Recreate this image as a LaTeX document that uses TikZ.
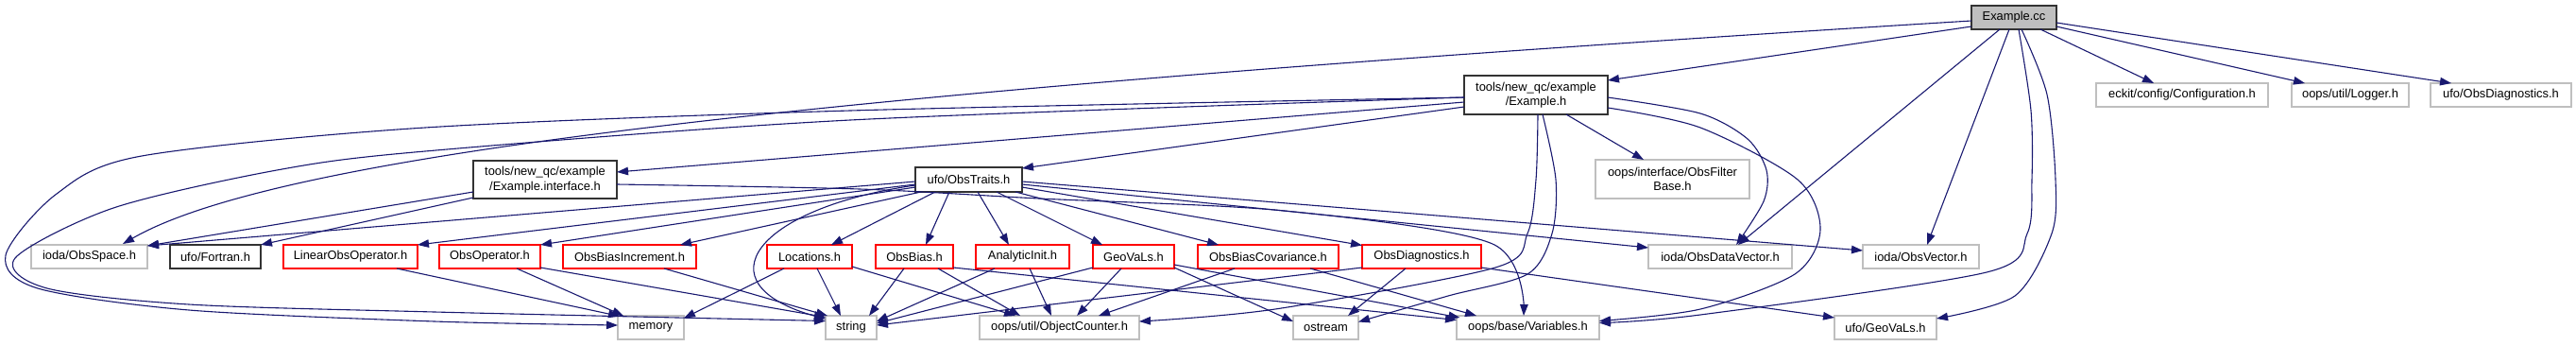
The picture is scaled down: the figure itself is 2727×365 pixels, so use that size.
\documentclass[tikz,border=0pt]{standalone}
\usepackage{fontspec}
\setmainfont{Liberation Sans}
\usetikzlibrary{arrows.meta,calc}
\definecolor{edgeblue}{RGB}{25,25,112}
\definecolor{boxgray}{RGB}{191,191,191}

\begin{document}
\begin{tikzpicture}[
    x=1pt, y=-1pt,
    font=\fontsize{12.9}{15.5}\selectfont,
    hdr/.style={draw, rectangle, inner sep=0pt, minimum height=25pt,
      align=center, line width=1.1pt},
    sys/.style={hdr, draw=boxgray, line width=1.5pt},
    loc/.style={hdr, draw=black!80},
    ufo/.style={hdr, draw=red},
    inc/.style={draw=edgeblue, line width=1.1pt,
      -{Triangle[length=12pt,width=8.5pt]}}
  ]
\useasboundingbox (0,0) rectangle (2727,365);

% top file and its direct includes
\node[loc, fill=boxgray, minimum width=90pt] (cc) at (2132,18.5) {Example.cc};
\node[loc, minimum width=152pt, minimum height=41pt] (exh) at (1626,100.5) {tools/new\_qc/example\\/Example.h};
\node[sys, minimum width=182pt] (conf) at (2310,100.5) {eckit/config/Configuration.h};
\node[sys, minimum width=124pt] (logger) at (2488,100.5) {oops/util/Logger.h};
\node[sys, minimum width=149pt] (obsdiagU) at (2647.5,100.5) {ufo/ObsDiagnostics.h};

% second level
\node[loc, minimum width=152pt, minimum height=40pt] (iface) at (577,190) {tools/new\_qc/example\\/Example.interface.h};
\node[loc, minimum width=113pt, minimum height=26pt] (traits) at (1025.5,190) {ufo/ObsTraits.h};
\node[sys, minimum width=163pt, minimum height=41pt] (filterbase) at (1770.5,189.5) {oops/interface/ObsFilter\\Base.h};

% third level
\node[sys, minimum width=123pt] (obsspace) at (94.5,271.5) {ioda/ObsSpace.h};
\node[loc, minimum width=96pt]  (fortran)  at (228,271.5) {ufo/Fortran.h};
\node[ufo, minimum width=142pt] (linop)    at (371,271.5) {LinearObsOperator.h};
\node[ufo, minimum width=107pt] (obsop)    at (518.5,271.5) {ObsOperator.h};
\node[ufo, minimum width=141pt] (biasinc)  at (666.5,271.5) {ObsBiasIncrement.h};
\node[ufo, minimum width=90pt]  (locs)     at (857,271.5) {Locations.h};
\node[ufo, minimum width=82pt]  (bias)     at (968,271.5) {ObsBias.h};
\node[ufo, minimum width=99pt]  (anainit)  at (1082.5,271.5) {AnalyticInit.h};
\node[ufo, minimum width=86pt]  (geovals)  at (1200,271.5) {GeoVaLs.h};
\node[ufo, minimum width=149pt] (biascov)  at (1342.5,271.5) {ObsBiasCovariance.h};
\node[ufo, minimum width=126pt] (obsdiag)  at (1505,271.5) {ObsDiagnostics.h};
\node[sys, minimum width=152pt] (datavec)  at (1821,271.5) {ioda/ObsDataVector.h};
\node[sys, minimum width=123pt] (obsvec)   at (2033.5,271.5) {ioda/ObsVector.h};

% bottom level
\node[sys, minimum width=70pt]  (memory)    at (689,346.5) {memory};
\node[sys, minimum width=54pt]  (string)    at (901,346.5) {string};
\node[sys, minimum width=169pt] (objcnt)    at (1121.5,346.5) {oops/util/ObjectCounter.h};
\node[sys, minimum width=69pt]  (ostream)   at (1403.5,346.5) {ostream};
\node[sys, minimum width=151pt] (variables) at (1617.5,346.5) {oops/base/Variables.h};
\node[sys, minimum width=108pt] (geovalsU)  at (1996,346.5) {ufo/GeoVaLs.h};

% Example.cc
\draw[inc] ($(cc)+(-45,9.5)$) -- ($(exh)+(76,-15.5)$);
\draw[inc] ($(cc)+(-45,3.5)$) .. controls (900,95) and (300,160) .. ($(obsspace)+(35.5,-13.5)$);
\draw[inc] ($(cc)+(-15,12.5)$) -- ($(datavec)+(19,-12.5)$);
\draw[inc] ($(cc)+(-5,12.5)$) -- ($(obsvec)+(6.5,-12.5)$);
\draw[inc] plot[smooth] coordinates {($(cc)+(5,12.5)$) (2150,117) (2151,190) (2146,247) (2103,288) (1800,333) ($(variables)+(75.5,-5)$)};
\draw[inc] plot[smooth] coordinates {($(cc)+(8,12.5)$) (2167,100) (2176,190) (2172,247) (2133,313) ($(geovalsU)+(54,-9.5)$)};
\draw[inc] ($(cc)+(28,12.5)$) -- ($(conf)+(-30,-12.5)$);
\draw[inc] ($(cc)+(45,9.5)$) -- ($(logger)+(-48,-12.5)$);
\draw[inc] ($(cc)+(45,5.5)$) -- ($(obsdiagU)+(-52.5,-12.5)$);

% Example.h
\draw[inc] ($(exh)+(-76,7.5)$) -- ($(iface)+(76,-8)$);
\draw[inc] ($(exh)+(-76,12.5)$) -- ($(traits)+(56.5,-12)$);
\draw[inc] plot[smooth] coordinates {($(exh)+(-76,2.5)$) (900,117) (450,135) (150,165) (60,205) (6,270) (40,305) (200,328) (460,340) ($(memory)+(-35,-2.5)$)};
\draw[inc] plot[smooth] coordinates {($(exh)+(-76,2.5)$) (900,127) (450,160) (293,180) (120,220) (16,273) (50,305) (200,322) (460,330) ($(string)+(-27,-7)$)};
\draw[inc] ($(exh)+(32,20.5)$) -- ($(filterbase)+(-30.5,-20.5)$);
\draw[inc] plot[smooth] coordinates {($(exh)+(76,2.5)$) (1800,120) (1850,147) (1870,180) (1867,213) ($(datavec)+(17,-12.5)$)};
\draw[inc] plot[smooth] coordinates {($(exh)+(76,13.5)$) (1800,135) (1903,190) (1927,243) (1900,290) (1800,327) ($(variables)+(75.5,-7)$)};
\draw[inc] plot[smooth] coordinates {($(exh)+(7,20.5)$) (1647,190) (1643,247) (1617,290) (1533,313) ($(ostream)+(34.5,-6)$)};
\draw[inc] plot[smooth] coordinates {($(exh)+(2,20.5)$) (1626,190) (1617,247) (1583,283) (1350,327) ($(objcnt)+(84.5,-6.5)$)};

% Example.interface.h
\draw[inc] ($(iface)+(-76,13)$) -- ($(obsspace)+(61.5,-11.5)$);
\draw[inc] ($(iface)+(-76,19)$) -- ($(fortran)+(48,-12.5)$);
\draw[inc] plot[smooth] coordinates {($(iface)+(76,5)$) (910,200) (1100,210) (1360,223) (1580,258) ($(variables)+(-4.5,-12.5)$)};

% ufo/ObsTraits.h
\draw[inc] ($(traits)+(-56.5,2)$) -- ($(obsspace)+(61.5,-11.5)$);
\draw[inc] ($(traits)+(-56.5,5)$) -- ($(linop)+(71,-12.5)$);
\draw[inc] ($(traits)+(-56.5,8)$) -- ($(obsop)+(53.5,-12.5)$);
\draw[inc] ($(traits)+(-50.5,13)$) -- ($(biasinc)+(53.5,-12.5)$);
\draw[inc] ($(traits)+(-35.5,13)$) -- ($(locs)+(23,-12.5)$);
\draw[inc] ($(traits)+(-56.5,6)$) .. controls (800,220) and (740,300) .. ($(string)+(-27,-9)$);
\draw[inc] ($(traits)+(-20.5,13)$) -- ($(bias)+(12,-12.5)$);
\draw[inc] ($(traits)+(9.5,13)$) -- ($(anainit)+(-14.5,-12.5)$);
\draw[inc] ($(traits)+(29.5,13)$) -- ($(geovals)+(-33,-12.5)$);
\draw[inc] ($(traits)+(49.5,13)$) -- ($(biascov)+(-52.5,-12.5)$);
\draw[inc] ($(traits)+(56.5,8)$) -- ($(obsdiag)+(-63,-12)$);
\draw[inc] ($(traits)+(56.5,5)$) -- ($(datavec)+(-76,-9.5)$);
\draw[inc] ($(traits)+(56.5,2)$) -- ($(obsvec)+(-61.5,-6.5)$);

% ufo headers to system headers
\draw[inc] ($(linop)+(49,12.5)$) -- ($(memory)+(-33,-12)$);
\draw[inc] ($(obsop)+(28.5,12.5)$) -- ($(memory)+(-29,-12.5)$);
\draw[inc] ($(obsop)+(53.5,11.5)$) -- ($(string)+(-27,-11)$);
\draw[inc] ($(biasinc)+(36.5,12.5)$) -- ($(string)+(-25,-12.5)$);
\draw[inc] ($(locs)+(-27,12.5)$) -- ($(memory)+(35,-10)$);
\draw[inc] ($(locs)+(8,12.5)$) -- ($(string)+(-11,-12.5)$);
\draw[inc] ($(locs)+(45,10.5)$) -- ($(objcnt)+(-46.5,-12.5)$);
\draw[inc] ($(bias)+(-11,12.5)$) -- ($(string)+(19,-12.5)$);
\draw[inc] ($(bias)+(25,12.5)$) -- ($(objcnt)+(-41.5,-12.5)$);
\draw[inc] ($(bias)+(41,11.5)$) -- ($(variables)+(-75.5,-8)$);
\draw[inc] ($(anainit)+(-29.5,12.5)$) -- ($(string)+(27,-6.5)$);
\draw[inc] ($(anainit)+(7.5,12.5)$) -- ($(objcnt)+(-8.5,-12.5)$);
\draw[inc] ($(geovals)+(-43,11.5)$) -- ($(string)+(27,-4.5)$);
\draw[inc] ($(geovals)+(-13,12.5)$) -- ($(objcnt)+(18.5,-12.5)$);
\draw[inc] ($(geovals)+(43,11.5)$) -- ($(ostream)+(-34.5,-6.5)$);
\draw[inc] ($(geovals)+(43,8.5)$) -- ($(variables)+(-72,-10.5)$);
\draw[inc] ($(biascov)+(-35.5,12.5)$) -- ($(objcnt)+(41.5,-12.5)$);
\draw[inc] ($(biascov)+(44.5,12.5)$) -- ($(variables)+(-54.5,-12.5)$);
\draw[inc] ($(obsdiag)+(-63,11.5)$) -- ($(string)+(27,-2.5)$);
\draw[inc] ($(obsdiag)+(-17,12.5)$) -- ($(ostream)+(23.5,-12.5)$);
\draw[inc] ($(obsdiag)+(63,11.5)$) -- ($(geovalsU)+(-54,-10.5)$);
\end{tikzpicture}
\end{document}
